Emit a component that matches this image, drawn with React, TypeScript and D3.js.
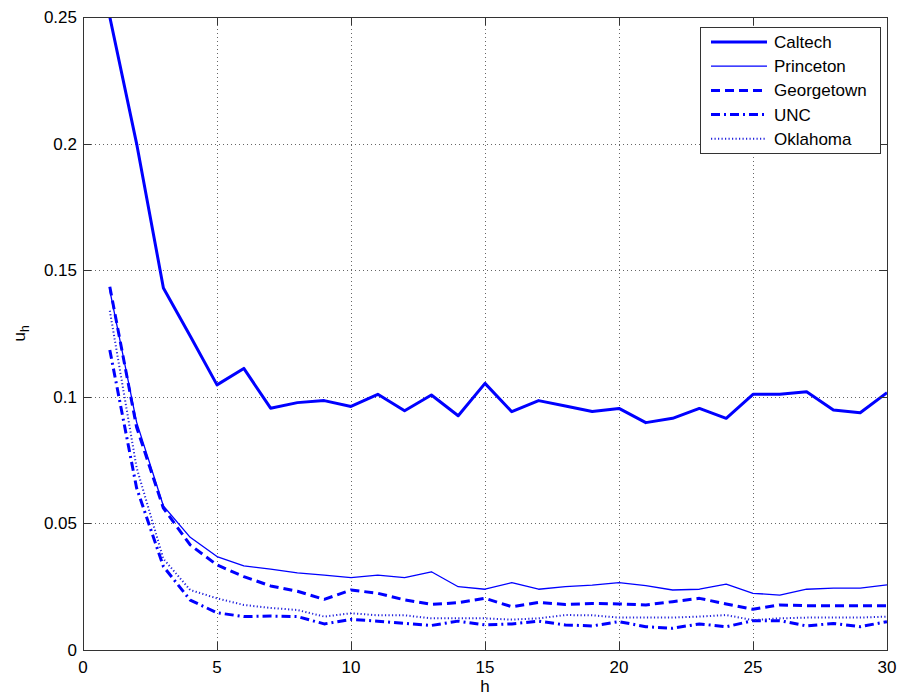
import React, { useEffect, useRef } from "react";
import * as d3 from "d3";

const hValues = d3.range(1, 31);

const caltech = [0.25, 0.2, 0.143, 0.124, 0.1047, 0.1112, 0.0955, 0.0977, 0.0985, 0.0962,
  0.101, 0.0945, 0.1007, 0.0925, 0.1053, 0.0941, 0.0985, 0.0964, 0.0942, 0.0954,
  0.0898, 0.0915, 0.0954, 0.0915, 0.101, 0.101, 0.102, 0.0948, 0.0937, 0.1016];
const princeton = [0.142, 0.09, 0.0569, 0.0445, 0.0369, 0.0332, 0.0319, 0.0305, 0.0296, 0.0286,
  0.0296, 0.0286, 0.0309, 0.025, 0.024, 0.0266, 0.024, 0.025, 0.0256, 0.0266,
  0.0254, 0.0237, 0.024, 0.026, 0.0224, 0.0217, 0.024, 0.0244, 0.0244, 0.0257];
const georgetown = [0.1435, 0.088, 0.056, 0.0415, 0.0336, 0.029, 0.0253, 0.0232, 0.02, 0.0237,
  0.0224, 0.0198, 0.018, 0.0187, 0.0204, 0.0171, 0.0188, 0.018, 0.0184, 0.0182,
  0.0178, 0.0191, 0.0204, 0.0182, 0.0161, 0.0178, 0.0175, 0.0175, 0.0175, 0.0175];
const unc = [0.1185, 0.064, 0.033, 0.0197, 0.0147, 0.0132, 0.0134, 0.0132, 0.0103, 0.0121,
  0.0114, 0.0105, 0.0097, 0.0114, 0.0099, 0.0103, 0.0114, 0.0099, 0.0095, 0.0112,
  0.0092, 0.0086, 0.0103, 0.0092, 0.0116, 0.0116, 0.0095, 0.0105, 0.0092, 0.0112];
const oklahoma = [0.134, 0.072, 0.036, 0.0237, 0.0204, 0.0178, 0.0166, 0.0158, 0.0132, 0.0145,
  0.0137, 0.0137, 0.0125, 0.0125, 0.0125, 0.012, 0.0125, 0.0138, 0.0137, 0.0128,
  0.0128, 0.0128, 0.0132, 0.0138, 0.0118, 0.0125, 0.0128, 0.0128, 0.0128, 0.0132];

const seriesNames = ["Caltech", "Princeton", "Georgetown", "UNC", "Oklahoma"];
const seriesValues = [caltech, princeton, georgetown, unc, oklahoma];
const seriesStyles = [
  { width: 3, dash: null, color: "#0000ff" },
  { width: 1.3, dash: null, color: "#0000ff" },
  { width: 3, dash: "9 5", color: "#0000ff" },
  { width: 3, dash: "9 4 2 4", color: "#0000ff" },
  { width: 2, dash: "1.2 2.3", color: "#2222dd" },
];

const xTicks = [0, 5, 10, 15, 20, 25, 30];
const yTicks = [0, 0.05, 0.1, 0.15, 0.2, 0.25];

const W = 900;
const H = 698;
const margin = { top: 17, right: 13, bottom: 48, left: 83 };
const FONT = "'Liberation Sans', Arial, Helvetica, sans-serif";
const FS = 17;

export default function App() {
  const ref = useRef<SVGSVGElement>(null);

  useEffect(() => {
    const svg = d3.select(ref.current);
    svg.selectAll("*").remove();

    const iw = W - margin.left - margin.right;
    const ih = H - margin.top - margin.bottom;
    const x = d3.scaleLinear().domain([0, 30]).range([0, iw]);
    const y = d3.scaleLinear().domain([0, 0.25]).range([ih, 0]);

    svg.append("rect").attr("width", W).attr("height", H).attr("fill", "#fff");

    svg.append("defs").append("clipPath").attr("id", "plotclip")
      .append("rect").attr("width", iw).attr("height", ih);

    const g = svg.append("g").attr("transform", `translate(${margin.left},${margin.top})`);

    // grid
    const grid = g.append("g").attr("stroke", "#666").attr("stroke-width", 1)
      .attr("stroke-dasharray", "1 3");
    xTicks.slice(1, -1).forEach(t => {
      grid.append("line").attr("x1", Math.round(x(t)) + 0.5).attr("x2", Math.round(x(t)) + 0.5)
        .attr("y1", 0).attr("y2", ih);
    });
    yTicks.slice(1, -1).forEach(t => {
      grid.append("line").attr("y1", Math.round(y(t)) + 0.5).attr("y2", Math.round(y(t)) + 0.5)
        .attr("x1", 0).attr("x2", iw);
    });

    // lines
    const lines = g.append("g").attr("clip-path", "url(#plotclip)");
    seriesValues.forEach((vals, i) => {
      const line = d3.line<number>().x((_, j) => x(hValues[j])).y(d => y(d));
      const p = lines.append("path").datum(vals)
        .attr("d", line)
        .attr("fill", "none")
        .attr("stroke", seriesStyles[i].color)
        .attr("stroke-width", seriesStyles[i].width)
        .attr("stroke-linejoin", "round");
      if (seriesStyles[i].dash) p.attr("stroke-dasharray", seriesStyles[i].dash);
    });

    // box + ticks
    const axisColor = "#333";
    g.append("rect").attr("x", 0.5).attr("y", 0.5).attr("width", iw).attr("height", ih)
      .attr("fill", "none").attr("stroke", axisColor).attr("stroke-width", 1);
    const tl = 8;
    xTicks.forEach(t => {
      const px = Math.round(x(t)) + 0.5;
      g.append("line").attr("x1", px).attr("x2", px).attr("y1", ih).attr("y2", ih - tl).attr("stroke", axisColor);
      g.append("line").attr("x1", px).attr("x2", px).attr("y1", 0).attr("y2", tl).attr("stroke", axisColor);
      g.append("text").attr("x", x(t)).attr("y", ih + 23)
        .attr("text-anchor", "middle").attr("font-family", FONT).attr("font-size", FS)
        .attr("fill", "#000").text(t);
    });
    yTicks.forEach(t => {
      const py = Math.round(y(t)) + 0.5;
      g.append("line").attr("x1", 0).attr("x2", tl).attr("y1", py).attr("y2", py).attr("stroke", axisColor);
      g.append("line").attr("x1", iw).attr("x2", iw - tl).attr("y1", py).attr("y2", py).attr("stroke", axisColor);
      g.append("text").attr("x", -6).attr("y", y(t) + 6)
        .attr("text-anchor", "end").attr("font-family", FONT).attr("font-size", FS)
        .attr("fill", "#000").text(d3.format("")(t));
    });

    // axis labels
    svg.append("text").attr("x", margin.left + x(15)).attr("y", 692)
      .attr("text-anchor", "middle").attr("font-family", FONT).attr("font-size", FS).text("h");
    const yl = svg.append("text").attr("transform", `translate(25,${margin.top + y(0.125)}) rotate(-90)`)
      .attr("text-anchor", "middle").attr("font-family", FONT).attr("font-size", FS);
    yl.append("tspan").text("u");
    yl.append("tspan").attr("font-size", 12).attr("dy", 4).text("h");

    // legend
    const lg = svg.append("g").attr("transform", "translate(700,27)");
    lg.append("rect").attr("x", 0.5).attr("y", 0.5).attr("width", 180).attr("height", 126)
      .attr("fill", "#fff").attr("stroke", "#333");
    seriesNames.forEach((name, i) => {
      const ly = 15 + i * 24.2;
      const l = lg.append("line").attr("x1", 11).attr("x2", 67).attr("y1", ly).attr("y2", ly)
        .attr("stroke", seriesStyles[i].color).attr("stroke-width", seriesStyles[i].width);
      if (seriesStyles[i].dash) l.attr("stroke-dasharray", seriesStyles[i].dash);
      lg.append("text").attr("x", 74).attr("y", ly + 6).attr("font-family", FONT)
        .attr("font-size", FS).attr("fill", "#000").text(name);
    });
  }, []);

  return (
    <svg ref={ref} width={W} height={H} style={{ position: "absolute", left: 0, top: 0 }} />
  );
}
